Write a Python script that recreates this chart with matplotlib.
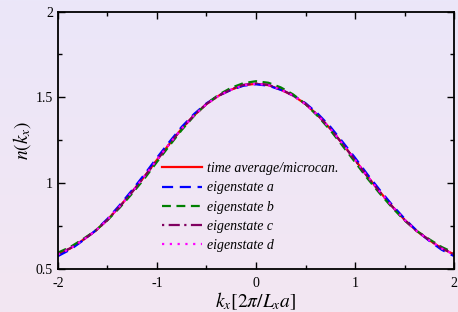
import numpy as np
import matplotlib
matplotlib.use('Agg')
import matplotlib.pyplot as plt
from matplotlib.ticker import MultipleLocator

plt.rcParams['font.family'] = 'Liberation Serif'
plt.rcParams['mathtext.fontset'] = 'stix'

# momentum grid and curves (step 0.125)
kx = [-2.0, -1.875, -1.75, -1.625, -1.5, -1.375, -1.25, -1.125, -1.0,
      -0.875, -0.75, -0.625, -0.5, -0.375, -0.25, -0.125, 0.0,
      0.125, 0.25, 0.375, 0.5, 0.625, 0.75, 0.875, 1.0,
      1.125, 1.25, 1.375, 1.5, 1.625, 1.75, 1.875, 2.0]
n_avg = [0.585, 0.620, 0.668, 0.720, 0.787, 0.865, 0.950, 1.040, 1.136,
         1.228, 1.318, 1.395, 1.461, 1.510, 1.545, 1.571, 1.579,
         1.571, 1.545, 1.510, 1.461, 1.395, 1.318, 1.228, 1.136,
         1.040, 0.950, 0.865, 0.787, 0.720, 0.668, 0.620, 0.585]
n_a = [0.575, 0.613, 0.665, 0.722, 0.792, 0.873, 0.960, 1.052, 1.148,
       1.240, 1.328, 1.403, 1.465, 1.511, 1.544, 1.568, 1.576,
       1.568, 1.544, 1.512, 1.466, 1.404, 1.329, 1.240, 1.148,
       1.051, 0.960, 0.873, 0.793, 0.722, 0.664, 0.612, 0.575]
n_b = [0.595, 0.628, 0.673, 0.722, 0.784, 0.858, 0.940, 1.028, 1.124,
       1.218, 1.310, 1.392, 1.462, 1.516, 1.556, 1.583, 1.594,
       1.585, 1.558, 1.517, 1.461, 1.390, 1.309, 1.217, 1.123,
       1.028, 0.940, 0.858, 0.783, 0.721, 0.673, 0.628, 0.594]
n_c = [0.587, 0.621, 0.668, 0.720, 0.786, 0.864, 0.949, 1.039, 1.135,
       1.228, 1.318, 1.396, 1.462, 1.511, 1.547, 1.573, 1.581,
       1.573, 1.547, 1.511, 1.462, 1.396, 1.318, 1.228, 1.135,
       1.039, 0.949, 0.864, 0.786, 0.720, 0.668, 0.621, 0.586]
n_d = [0.584, 0.619, 0.667, 0.720, 0.787, 0.866, 0.951, 1.041, 1.137,
       1.229, 1.318, 1.395, 1.460, 1.510, 1.545, 1.571, 1.579,
       1.571, 1.545, 1.510, 1.460, 1.395, 1.318, 1.229, 1.137,
       1.041, 0.951, 0.866, 0.787, 0.720, 0.667, 0.619, 0.584]

fig = plt.figure(figsize=(4.58, 3.12), dpi=100)

# background gradient
bg = fig.add_axes([0, 0, 1, 1], zorder=-1)
top = np.array([235, 231, 249]) / 255
bot = np.array([243, 230, 242]) / 255
t = np.linspace(0, 1, 200)[:, None, None]
grad = top * (1 - t) + bot * t
bg.imshow(grad, aspect='auto', extent=[0, 1, 0, 1])
bg.axis('off')

ax = fig.add_axes([0.1266, 0.138, 0.8647, 0.825])
ax.patch.set_alpha(0)

lw = 1.6
ax.plot(kx, n_avg, color='#ff0000', lw=lw, ls='-', label='time average/microcan.')
ax.plot(kx, n_a, color='#0000ff', lw=lw, ls=(0, (5, 3)), label='eigenstate a')
ax.plot(kx, n_b, color='#008000', lw=lw, ls=(0, (4, 2.5)), label='eigenstate b')
ax.plot(kx, n_c, color='#800060', lw=lw, ls=(0, (1, 2, 5, 2)), label='eigenstate c')
ax.plot(kx, n_d, color='#ff00ff', lw=lw, ls=(0, (1, 2.5)), label='eigenstate d')

ax.set_xlim(-2, 2)
ax.set_ylim(0.5, 2)
ax.set_xticks([-2, -1, 0, 1, 2])
ax.set_xticklabels(['-2', '-1', '0', '1', '2'])
ax.set_yticks([0.5, 1, 1.5, 2])
ax.set_yticklabels(['0.5', '1', '1.5', '2'])
ax.xaxis.set_minor_locator(MultipleLocator(0.5))
ax.yaxis.set_minor_locator(MultipleLocator(0.25))
ax.tick_params(which='both', direction='in', top=True, right=True, labelsize=10, width=1)
ax.tick_params(which='major', length=5)
ax.tick_params(which='minor', length=3)
ax.tick_params(axis='x', pad=6)
for s in ax.spines.values():
    s.set_linewidth(1.3)

ax.set_xlabel(r'$k_x[2\pi/L_x a]$', fontsize=14, labelpad=0)
ax.set_ylabel(r'$n(k_x)$', fontsize=14, labelpad=2)

leg = ax.legend(loc='lower left', bbox_to_anchor=(0.245, 0.038), frameon=False,
                handlelength=2.9, labelspacing=0.45, borderpad=0, handletextpad=0.35,
                prop={'family': 'Liberation Serif', 'style': 'italic', 'size': 10})

fig.savefig('out.png', dpi=100)
